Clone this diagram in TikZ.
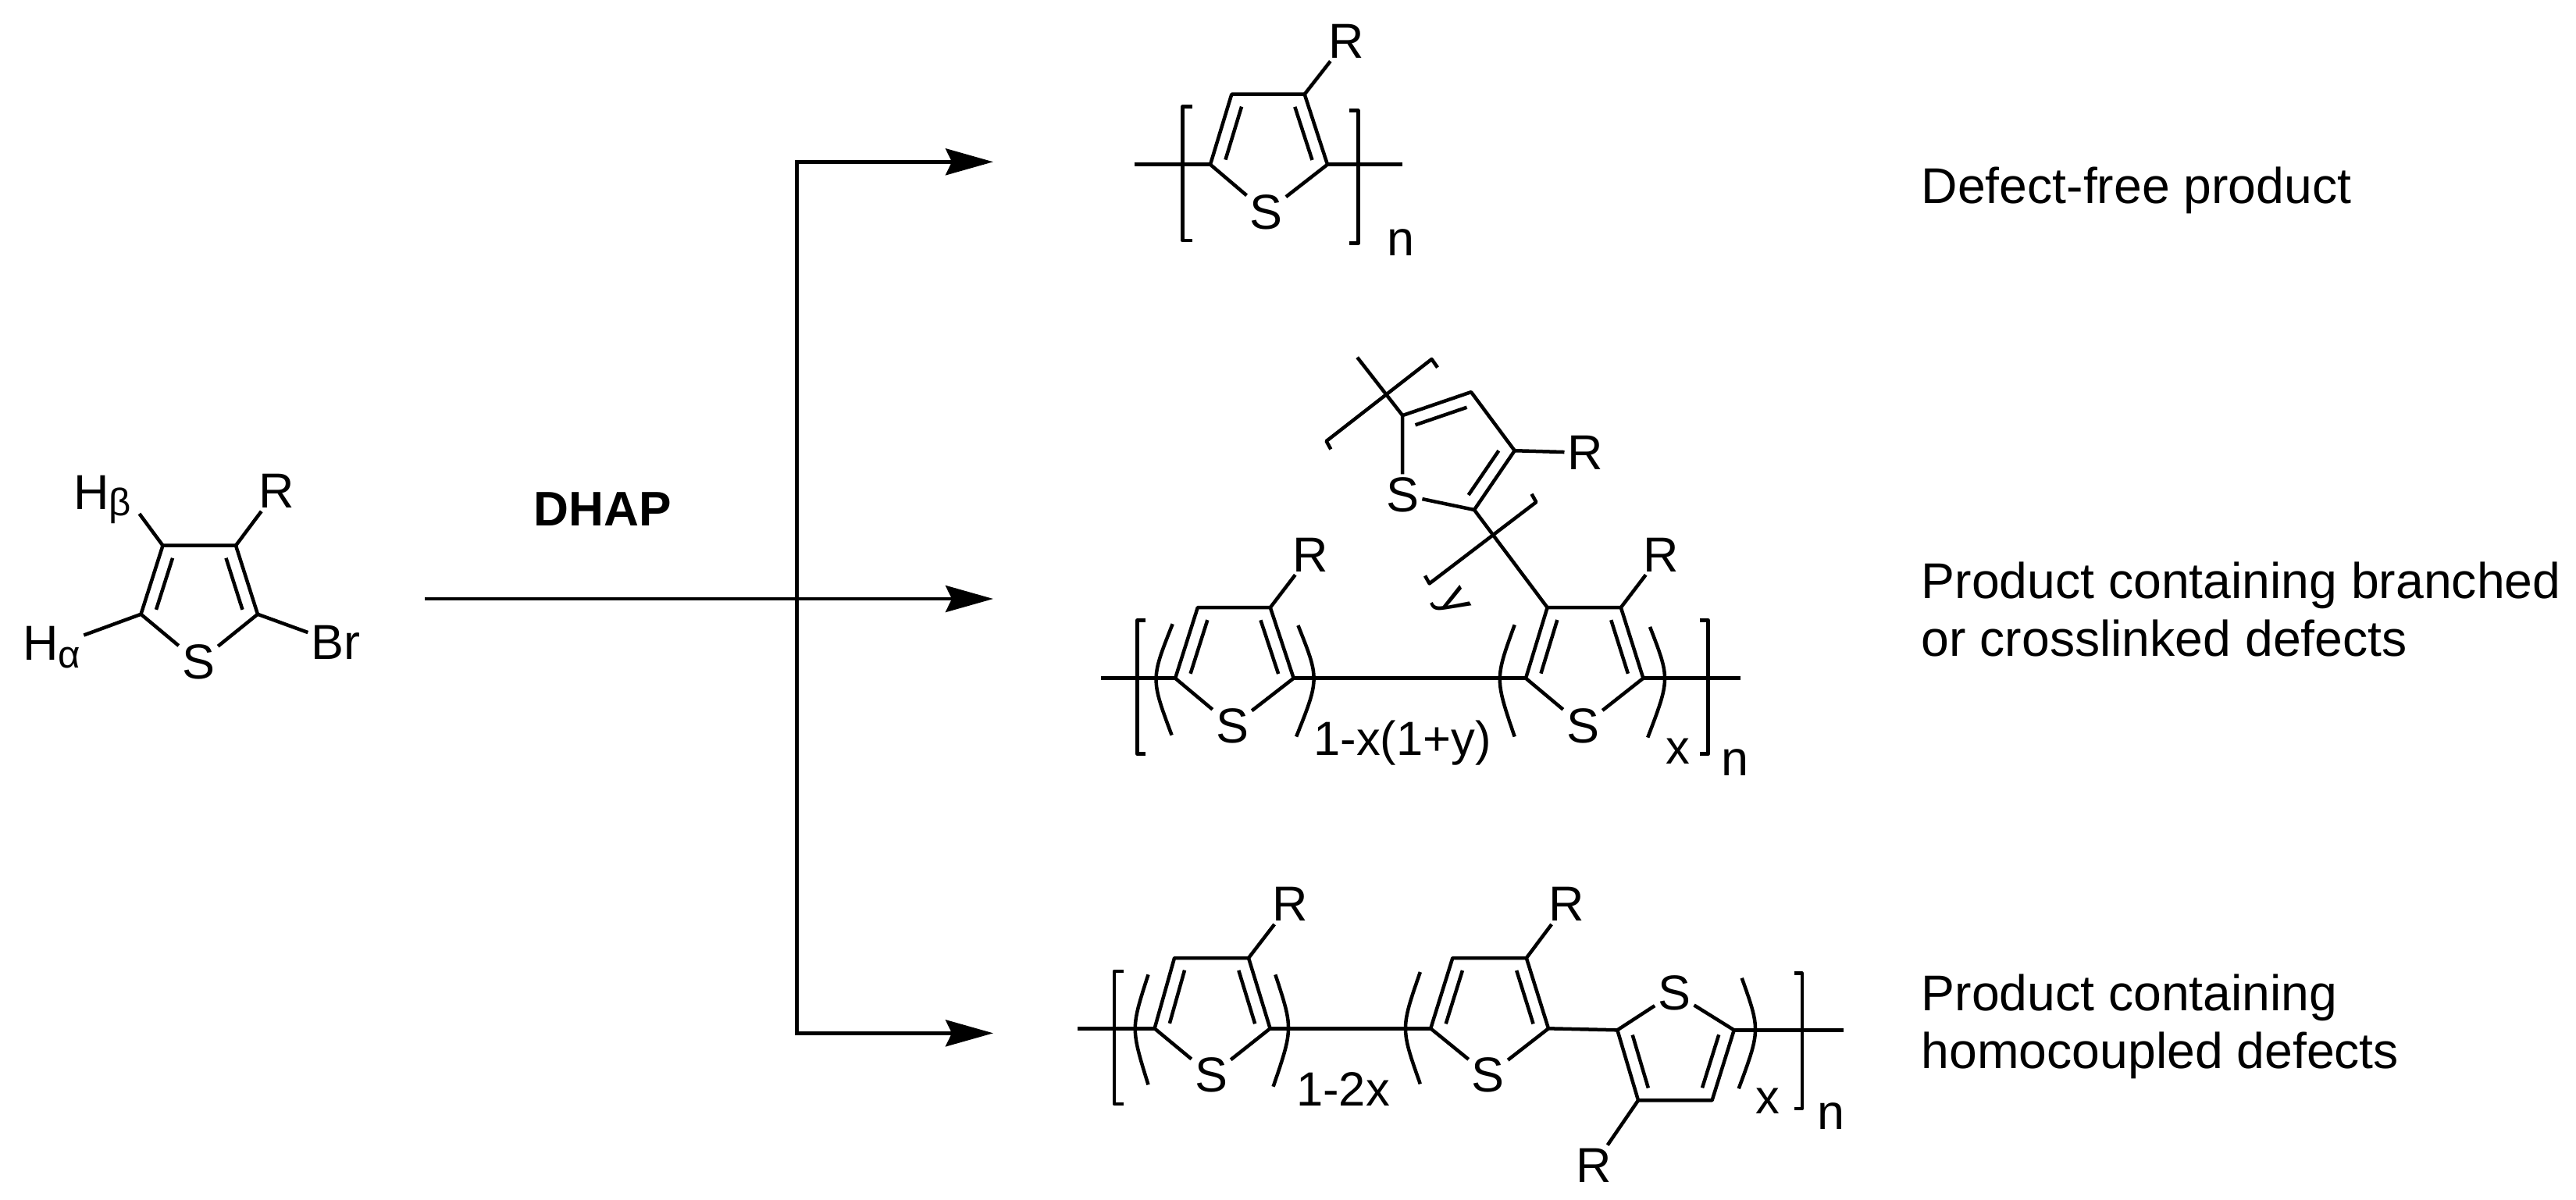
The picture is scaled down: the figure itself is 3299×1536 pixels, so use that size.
\documentclass[tikz,border=0pt]{standalone}
\usepackage{fontspec}
\setmainfont{Liberation Sans}
\usetikzlibrary{arrows.meta,calc}
\newcommand{\atomfont}{\fontsize{17.9}{20}\selectfont}
\newcommand{\subsfont}{\fontsize{17.5}{20}\selectfont}
\newcommand{\greekfont}{\fontsize{14}{16}\selectfont}
\newcommand{\descfont}{\fontsize{18.3}{21}\selectfont}
\tikzset{
    bond/.style={line width=.45mm,line join=round},
    rxn/.style={line width=.47mm,-{Stealth[length=6.1mm,width=3.4mm,inset=.8mm]}},
    atom/.style={inner sep=1pt,font=\atomfont},
    subs/.style={inner sep=0pt,anchor=base,font=\subsfont},
    desc/.style={inner sep=0pt,anchor=base west,align=left,font=\descfont}
}
% inner line of a double bond, always on the left of #1 -> #2
\newcommand{\dbl}[2]{\draw[bond] ($(#1)!1.15mm!(#2)!1.68mm!90:(#2)$)--($(#2)!1.15mm!(#1)!1.68mm!-90:(#1)$);}
% ring: name, four carbons, sulfur
\newcommand{\thio}[6]{
    \coordinate (#1a) at (#2); \coordinate (#1b) at (#3);
    \coordinate (#1c) at (#4); \coordinate (#1d) at (#5);
    \node[atom] (#1s) at (#6) {S};
    \draw[bond] (#1s)--(#1a)--(#1b)--(#1c)--(#1d)--(#1s);
    \dbl{#1b}{#1a} \dbl{#1d}{#1c}
}
\begin{document}
\begin{tikzpicture}[x=.1mm,y=-.1mm]
    \useasboundingbox (0,0) rectangle (3299,1536);
    % monomer
    \thio{st}{180.5,786.7}{208.5,698.7}{302,698.7}{330,786.7}{254,848}
    \node[atom] (str) at (354,629) {R};
    \node[atom] (stbr) at (430,823) {Br};
    \node[atom,anchor=base west] (stha) at (25,845) {H{\greekfont\raisebox{-1mm}{α}}};
    \node[atom,anchor=base west] (sthb) at (90,652) {H{\greekfont\raisebox{-.8mm}{β}}};
    \coordinate (sthbend) at (178.5,658);
    \draw[bond] (stc)--(str);
    \draw[bond] (std)--(stbr);
    \draw[bond] (sta)--(stha);
    \draw[bond] (stb)--(sthbend);
    % reaction arrows
    \node[font=\fontsize{17.7}{20}\selectfont\bfseries,inner sep=0pt] (dhap) at (772,652.5) {DHAP};
    \coordinate (src) at (544,767);
    \coordinate (jct) at (1020.7,767);
    \coordinate (ptop) at (1272,207.3);
    \coordinate (pmid) at (1272,767);
    \coordinate (pbot) at (1272,1323.3);
    \draw[rxn] (src)--(pmid);
    \draw[rxn] (jct)|-(ptop);
    \draw[rxn] (jct)|-(pbot);
    % defect-free product
    \thio{tp}{1550,210.7}{1577.3,120.7}{1670.7,120.7}{1700,210.7}{1621.7,271.7}
    \node[atom] (tpr) at (1724,52.5) {R};
    \draw[bond] (tpc)--(tpr);
    \coordinate (tpl) at (1452.7,210.7);
    \coordinate (tpe) at (1796,210.7);
    \draw[bond] (tpl)--(tpa);
    \draw[bond] (tpd)--(tpe);
    \node[atom,anchor=base,inner sep=0pt] (tpn) at (1794,327) {n};
    % branched product
    \thio{ml}{1505.1,868.7}{1533.8,778.1}{1626.8,778.1}{1656.7,868.7}{1578,929.8}
    \thio{mr}{1954,868.7}{1981.6,778.1}{2075.8,778.1}{2104.4,868.7}{2027,929.8}
    \thio{up}{1796.2,532.1}{1884,502.1}{1939.7,577.2}{1888,653}{1796.2,633.8}
    \node[atom] (mlr) at (1678.5,710.4) {R};
    \node[atom] (mrr) at (2127.4,710.4) {R};
    \node[atom] (upr) at (2030.4,579.8) {R};
    \draw[bond] (mlc)--(mlr);
    \draw[bond] (mrc)--(mrr);
    \draw[bond] (upc)--(upr);
    \coordinate (mll) at (1409.9,868.7);
    \coordinate (mre) at (2228.5,868.7);
    \coordinate (upe) at (1738.2,457.7);
    \draw[bond] (mll)--(mla);
    \draw[bond] (mld)--(mra);
    \draw[bond] (mrd)--(mre);
    \draw[bond] (upa)--(upe);
    \draw[bond] (upd)--(mrb);
    \draw[bond] (1841,470.7)--(1833.5,460)--(1698.6,565)--(1704.3,575.4);
    \draw[bond] (1961.5,632.7)--(1967.3,643.1)--(1830.6,747.4)--(1825,737.4);
    \node[font=\subsfont,inner sep=0pt,rotate=-60] (upy) at (1858,774) {y};
    \node[subs] (mlx) at (1796,967.5) {1-x(1+y)};
    \node[subs] (mrx) at (2149,978.6) {x};
    \node[atom,anchor=base,inner sep=0pt] (mrn) at (2222,993.4) {n};
    % homocoupled product
    \thio{ba}{1478.6,1317.3}{1504,1227}{1599,1227}{1626.6,1317.3}{1551,1377.3}
    \thio{bb}{1832.2,1317.3}{1860.3,1227}{1954.8,1227}{1983,1317.3}{1905.9,1377.3}
    \thio{bc}{2220.7,1319.3}{2192.6,1409.3}{2098,1409.3}{2071.3,1319.3}{2144.3,1271.7}
    \node[atom] (bar) at (1652,1158) {R};
    \node[atom] (bbr) at (2006.4,1158) {R};
    \node[atom] (bcr) at (2041,1492.5) {R};
    \draw[bond] (bac)--(bar);
    \draw[bond] (bbc)--(bbr);
    \draw[bond] (bcc)--(bcr);
    \coordinate (bal) at (1380,1317.3);
    \coordinate (bce) at (2361.3,1319.3);
    \draw[bond] (bal)--(baa);
    \draw[bond] (bad)--(bba);
    \draw[bond] (bbd)--(bcd);
    \draw[bond] (bca)--(bce);
    \node[subs] (bax) at (1720,1416) {1-2x};
    \node[subs] (bcx) at (2264,1426) {x};
    \node[atom,anchor=base,inner sep=0pt] (bcn) at (2344.6,1446) {n};
    % brackets
    \foreach \xa/\xb/\ya/\yb in {1526.7/1514.3/136.7/308,1728.3/1739.3/141.7/311.7,
        1467.3/1456.3/794.4/965.7,2176.8/2187.7/794.4/965.7,
        1439/1427/1244/1414,2297.7/2307.8/1246.7/1420}
    \draw[bond] (\xa,\ya)--(\xb,\ya)--(\xb,\yb)--(\xa,\yb);
    % parentheses
    \foreach \xa/\ya/\xc/\yc/\xb/\yb in {1501.7/799.2/1473.7/869.5/1500.6/941.6,
        1662.4/801/1689.7/869.5/1660.1/943.5,
        1939.7/800.3/1914.5/869.5/1939.7/943.5,
        2113/802.9/2138.8/869.5/2110.2/944.6,
        1470.5/1248.3/1448.2/1317.3/1470.5/1389.3,
        1633.3/1248.3/1656/1317.3/1630.6/1391.7,
        1818.8/1245/1793.7/1317.3/1818.8/1388.3,
        2230.7/1252.7/2254.4/1319.3/2226.7/1394.3}
    \draw[bond] (\xa,\ya) .. controls (\xc,\yc) .. (\xb,\yb);
    % captions
    \node[desc] (capa) at (2460,260) {Defect-free product};
    \node[desc] (capb) at (2460,840) {Product containing branched\\or crosslinked defects};
    \node[desc] (capc) at (2460,1368) {Product containing\\homocoupled defects};
\end{tikzpicture}
\end{document}
